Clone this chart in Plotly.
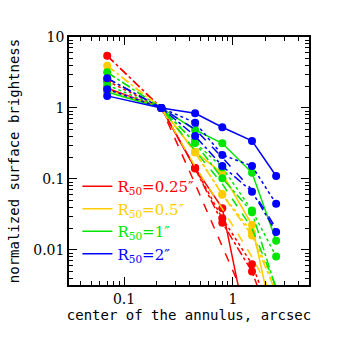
import plotly.graph_objects as go

# annulus centers (arcsec)
radius = [0.07, 0.22, 0.45, 0.8, 1.5, 2.5]

labels = ["R<sub>50</sub>=0.25″", "R<sub>50</sub>=0.5″", "R<sub>50</sub>=1″", "R<sub>50</sub>=2″"]
colors = ["#ff0000", "#ffcc00", "#00e600", "#0000ff"]

# measured profiles per R50 (solid, dotted, dash-dot; with markers)
red_solid   = [1.9, 1, 0.142, 0.0387, 0.00035, 0.0001]
red_dot     = [2.4, 1, 0.142, 0.0279, 0.00629, 0.0008]
red_dashdot = [5.45, 1, 0.14, 0.0242, 0.00495, 0.0006]

gold_solid   = [1.8, 1, 0.242, 0.12, 0.0225, 0.0006]
gold_dot     = [2.6, 1, 0.24, 0.0615, 0.0176, 0.0028]
gold_dashdot = [3.94, 1, 0.236, 0.06, 0.016, 0.0025]

green_solid   = [1.68, 1, 0.49, 0.318, 0.122, 0.0135]
green_dot     = [2.11, 1, 0.325, 0.145, 0.036, 0.00805]
green_dashdot = [3.18, 1, 0.32, 0.102, 0.034, 0.0028]

blue_solid   = [1.48, 1, 0.842, 0.535, 0.343, 0.110]
blue_dot     = [1.83, 1, 0.621, 0.218, 0.152, 0.0445]
blue_dashdot = [2.62, 1, 0.403, 0.152, 0.0662, 0.0179]

# model curves per R50 (dashed, no markers)
red_model   = [5.45, 1, 0.085, 0.011, 0.0012, 0.0002]
gold_model  = [3.94, 1, 0.15, 0.038, 0.008, 0.0018]
green_model = [3.18, 1, 0.25, 0.085, 0.02, 0.003]
blue_model  = [2.62, 1, 0.5, 0.2, 0.07, 0.02]

groups = [
    [red_solid, red_dot, red_dashdot, red_model],
    [gold_solid, gold_dot, gold_dashdot, gold_model],
    [green_solid, green_dot, green_dashdot, green_model],
    [blue_solid, blue_dot, blue_dashdot, blue_model],
]

fig = go.Figure()
for gi, grp in enumerate(groups):
    c = colors[gi]
    s, d, dd, m = grp
    fig.add_trace(go.Scatter(x=radius, y=m, mode="lines",
                             line=dict(color=c, width=1.5, dash="dash"), showlegend=False))
    for vals, style in [(dd, "dashdot"), (d, "dot"), (s, "solid")]:
        fig.add_trace(go.Scatter(
            x=radius, y=vals, mode="lines+markers",
            line=dict(color=c, width=1.5, dash=style),
            marker=dict(color=c, size=8),
            showlegend=False,
        ))

# legend entries (solid lines)
for gi in range(4):
    fig.add_trace(go.Scatter(
        x=[None], y=[None], mode="lines",
        line=dict(color=colors[gi], width=1.5),
        name=f"<span style='color:{colors[gi]}'>{labels[gi]}</span>",
        showlegend=True,
    ))

axis_common = dict(
    type="log", ticks="inside", mirror="allticks", showline=True,
    linecolor="black", linewidth=1.5, ticklen=8, tickwidth=1, tickcolor="black",
    showgrid=False, zeroline=False, dtick=1,
    minor=dict(ticks="inside", ticklen=4, tickwidth=1, tickcolor="black", showgrid=False),
    tickfont=dict(family="DejaVu Serif", size=14, color="black"),
)

fig.update_xaxes(**axis_common, range=[-1.506, 0.70],
                 title=dict(text="center of the annulus, arcsec",
                            font=dict(family="DejaVu Sans Mono", size=14, color="black"),
                            standoff=5))
fig.update_yaxes(**axis_common, range=[-2.495, 1.0],
                 title=dict(text="normalized surface brightness",
                            font=dict(family="DejaVu Sans Mono", size=14, color="black"),
                            standoff=10))

fig.update_layout(
    width=345, height=345,
    margin=dict(l=69, r=36, t=37, b=60),
    paper_bgcolor="white", plot_bgcolor="white",
    legend=dict(x=0.035, y=0.464, xanchor="left", yanchor="top",
                bgcolor="rgba(0,0,0,0)", font=dict(family="DejaVu Serif", size=15),
                itemwidth=30, tracegroupgap=0),
)

fig.write_html("out.html", config={"displayModeBar": False},
               post_script="document.body.style.margin='0';")
